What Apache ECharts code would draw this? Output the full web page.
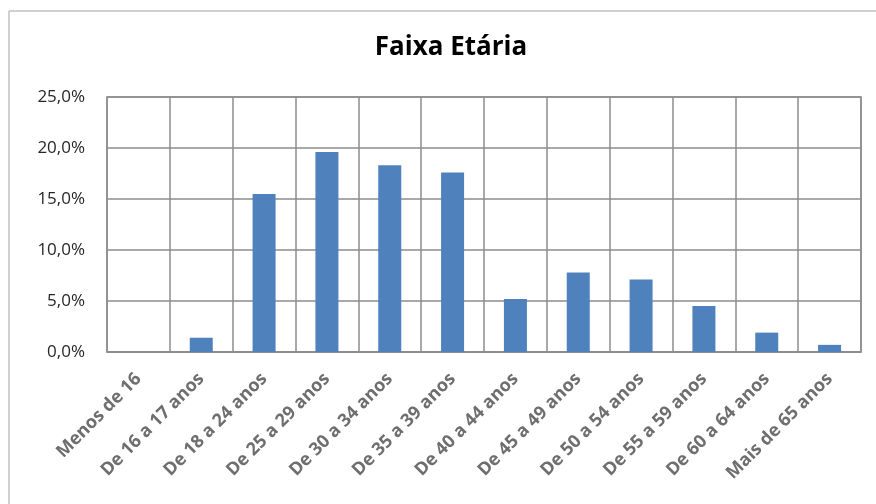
<!DOCTYPE html>
<html>
<head>
<meta charset="utf-8">
<script src="https://cdn.jsdelivr.net/npm/echarts@6/dist/echarts.min.js"></script>
<style>html,body{margin:0;padding:0;background:#fff;}#c{width:876px;height:504px;}</style>
</head>
<body>
<div id="c"></div>
<script>
const titleText = 'Faixa Etária';
const categories = ['Menos de 16','De 16 a 17 anos','De 18 a 24 anos','De 25 a 29 anos','De 30 a 34 anos','De 35 a 39 anos','De 40 a 44 anos','De 45 a 49 anos','De 50 a 54 anos','De 55 a 59 anos','De 60 a 64 anos','Mais de 65 anos'];
const values = [0, 1.4, 15.5, 19.6, 18.3, 17.6, 5.2, 7.8, 7.1, 4.5, 1.9, 0.7];
const yTicks = [0, 5, 10, 15, 20, 25];

const chart = echarts.init(document.getElementById('c'), null, {renderer: 'canvas'});
chart.setOption({
  animation: false,
  backgroundColor: '#fff',
  title: {
    text: titleText, left: 446, top: 30, textAlign: 'center',
    textStyle: {fontFamily: 'Open Sans', fontWeight: 'bold', fontSize: 26, color: '#000'}
  },
  graphic: [
    {type: 'line', shape: {x1: 9, y1: 11, x2: 876, y2: 11}, style: {stroke: '#c0c0c0', lineWidth: 1.5}},
    {type: 'line', shape: {x1: 9, y1: 11, x2: 9, y2: 504}, style: {stroke: '#c0c0c0', lineWidth: 1.5}}
  ],
  grid: {left: 107, top: 97, right: 15, bottom: 152, show: true, borderColor: '#8c8c8c', borderWidth: 1.5},
  xAxis: {
    type: 'category', data: categories, boundaryGap: true,
    axisLine: {show: true, lineStyle: {color: '#8c8c8c', width: 1.5}},
    axisTick: {show: false},
    splitLine: {show: true, lineStyle: {color: '#8c8c8c', width: 1.5}},
    axisLabel: {rotate: 45, interval: 0, margin: 24, color: '#6e6e6e', fontFamily: 'Open Sans', fontWeight: 'bold', fontSize: 18}
  },
  yAxis: {
    type: 'value', min: yTicks[0], max: yTicks[yTicks.length - 1], interval: 5,
    axisLine: {show: false}, axisTick: {show: false},
    splitLine: {show: true, lineStyle: {color: '#8c8c8c', width: 1.5}},
    axisLabel: {margin: 22, color: '#262626', fontFamily: 'Open Sans', fontSize: 17,
      formatter: v => v.toFixed(1).replace('.', ',') + '%'}
  },
  series: [{
    type: 'bar', data: values, barWidth: 23,
    itemStyle: {color: '#4f81bd', borderWidth: 0}
  }]
});
</script>
</body>
</html>
